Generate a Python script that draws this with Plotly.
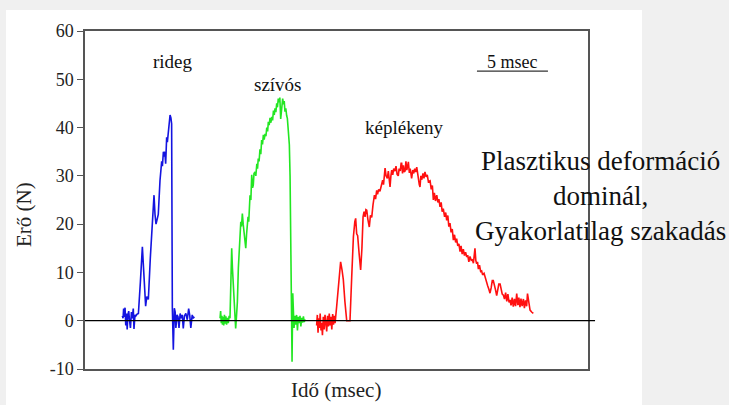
import plotly.graph_objects as go

# ---------------- data (time in msec, force in N) ----------------
blue_t = [2.63, 2.68, 2.72, 2.77, 2.82, 2.87, 2.92, 2.97, 3.02, 3.08,
          3.13, 3.20, 3.27, 3.33, 3.40, 3.45, 3.52, 3.58, 3.65, 3.76,
          3.90, 4.04, 4.12, 4.27, 4.35, 4.46, 4.60, 4.74, 4.86, 4.93,
          5.00, 5.08, 5.16, 5.28, 5.40, 5.45, 5.52, 5.58, 5.62, 5.68,
          5.75, 5.80, 5.87, 5.93, 5.99, 6.05, 6.10, 6.15, 6.22, 6.29,
          6.35, 6.40, 6.48, 6.55, 6.62, 6.70, 6.78, 6.85, 6.92, 7.00,
          7.10, 7.20, 7.30, 7.38, 7.45, 7.55, 7.62, 7.70]
blue_F = [1.0, 0.5, 2.5, 0.8, 2.7, -1.0, 1.5, -1.8, 1.2, 2.0,
          0.2, -1.5, 1.8, 0.5, 2.5, -1.7, 1.2, 1.0, 1.3, 1.5,
          8.0, 15.3, 11.0, 3.0, 5.0, 4.4, 13.0, 19.5, 26.0, 22.0,
          20.0, 21.0, 22.0, 29.0, 33.0, 32.0, 35.0, 34.0, 35.0, 32.5,
          38.0, 37.0, 39.5, 41.0, 42.6, 42.0, 40.8, 2.7, -6.0, 2.6,
          1.8, -1.5, 1.2, 0.8, -1.5, 1.5, 0.5, 1.2, -1.6, 1.0,
          1.5, 0.2, 2.5, 1.0, -1.5, 1.2, 0.5, 0.8]

green_t = [9.51, 9.55, 9.60, 9.64, 9.68, 9.72, 9.77, 9.82, 9.87, 9.92,
           9.97, 10.02, 10.09, 10.15, 10.21, 10.27, 10.33, 10.38, 10.44, 10.52,
           10.61, 10.67, 10.73, 10.80, 10.86, 10.92, 10.97, 11.02, 11.08, 11.14,
           11.22, 11.27, 11.32, 11.38, 11.43, 11.48, 11.53, 11.58, 11.62, 11.68,
           11.74, 11.80, 11.85, 11.90, 11.97, 12.03, 12.10, 12.15, 12.20, 12.26,
           12.32, 12.38, 12.44, 12.50, 12.56, 12.62, 12.68, 12.74, 12.80, 12.86,
           12.91, 12.97, 13.03, 13.09, 13.15, 13.21, 13.27, 13.33, 13.38, 13.44,
           13.50, 13.55, 13.61, 13.66, 13.72, 13.78, 13.84, 13.92, 13.98, 14.03,
           14.08, 14.14, 14.20, 14.25, 14.30, 14.35, 14.39, 14.44, 14.48, 14.53,
           14.58, 14.63, 14.67, 14.72, 14.78, 14.84, 14.90, 14.96, 15.02, 15.08,
           15.14, 15.20, 15.26, 15.32, 15.38, 15.44, 15.49]
green_F = [0.5, 2.0, -0.5, 1.0, -0.8, 0.8, -1.0, 1.2, -0.6, 0.9,
           -0.8, 0.6, -0.5, 1.0, 0.5, 9.0, 15.0, 11.0, 7.4, 2.0,
           -1.6, 1.0, 3.9, 11.0, 15.5, 17.7, 20.5, 19.5, 22.2, 20.0,
           17.7, 16.0, 15.0, 18.0, 19.8, 21.5, 20.5, 24.0, 26.0, 25.0,
           30.2, 27.5, 28.1, 30.5, 30.8, 30.0, 32.5, 31.5, 33.6, 33.0,
           35.5, 34.5, 37.4, 36.5, 38.5, 37.5, 38.7, 38.2, 40.0, 39.2,
           41.2, 40.5, 42.0, 41.0, 42.2, 41.5, 43.5, 42.6, 44.0, 43.2,
           45.0, 44.2, 46.0, 45.2, 46.2, 41.8, 44.5, 46.0, 44.8, 45.5,
           43.3, 44.0, 42.5, 41.9, 40.0, 38.0, 36.4, 30.0, 21.0, -1.0,
           -8.5, 5.7, 0.5, -1.5, 1.0, -0.8, 1.2, -2.0, 0.8, -0.5,
           1.0, -1.2, 0.6, -0.4, 0.9, -0.3, 0.3]

red_t = [16.31, 16.36, 16.41, 16.46, 16.51, 16.56, 16.62, 16.67, 16.72, 16.78,
         16.84, 16.90, 16.96, 17.02, 17.08, 17.14, 17.20, 17.26, 17.32, 17.38,
         17.44, 17.50, 17.56, 17.61, 17.72, 17.86, 18.00, 18.10, 18.19, 18.30,
         18.43, 18.55, 18.66, 18.78, 18.90, 19.00, 19.06, 19.13, 19.20, 19.30,
         19.41, 19.50, 19.58, 19.65, 19.72, 19.78, 19.84, 19.92, 20.02, 20.10,
         20.19, 20.28, 20.33, 20.38, 20.46, 20.54, 20.60, 20.68, 20.77, 20.86,
         20.96, 21.02, 21.08, 21.13, 21.20, 21.29, 21.36, 21.42, 21.48, 21.54,
         21.60, 21.67, 21.74, 21.83, 21.90, 21.98, 22.06, 22.12, 22.20, 22.26,
         22.30, 22.36, 22.42, 22.48, 22.54, 22.60, 22.66, 22.72, 22.77, 22.84,
         22.90, 22.95, 23.00, 23.08, 23.15, 23.22, 23.29, 23.36, 23.42, 23.48,
         23.54, 23.59, 23.65, 23.72, 23.80, 23.87, 23.94, 24.02, 24.10, 24.18,
         24.30, 24.38, 24.46, 24.53, 24.60, 24.68, 24.77, 24.85, 24.92, 25.00,
         25.08, 25.15, 25.23, 25.32, 25.40, 25.47, 25.55, 25.62, 25.70, 25.78,
         25.86, 25.94, 26.02, 26.10, 26.17, 26.25, 26.33, 26.41, 26.48, 26.56,
         26.64, 26.72, 26.80, 26.88, 26.95, 27.03, 27.11, 27.20, 27.28, 27.35,
         27.40, 27.46, 27.52, 27.58, 27.64, 27.70, 27.78, 27.86, 27.93, 28.00,
         28.10, 28.20, 28.29, 28.36, 28.44, 28.52, 28.60, 28.68, 28.75, 28.82,
         28.90, 28.99, 29.06, 29.14, 29.23, 29.30, 29.38, 29.46, 29.54, 29.62,
         29.70, 29.78, 29.86, 29.93, 30.00, 30.08, 30.16, 30.24, 30.32, 30.40,
         30.48, 30.55, 30.63, 30.70, 30.78, 30.87, 30.94, 31.02, 31.10, 31.16,
         31.22, 31.28, 31.34, 31.45, 31.57]
red_F = [-1.0, 1.2, -2.5, 0.5, -1.5, 1.5, -2.0, -0.5, -3.0, 0.8,
         -1.8, 1.2, -0.5, -2.2, 1.0, -1.2, 1.5, -1.0, 0.8, -1.8,
         1.4, -0.8, 1.0, -0.5, 2.9, 8.0, 12.2, 10.5, 8.5, 4.0,
         0.0, 0.0, 0.0, 9.0, 17.4, 20.5, 21.2, 18.0, 17.6, 14.0,
         10.5, 15.0, 21.5, 22.6, 21.5, 23.0, 22.9, 21.0, 19.4, 21.8,
         21.4, 24.0, 25.5, 26.0, 25.2, 27.0, 26.2, 27.2, 26.8, 28.0,
         29.1, 28.2, 30.5, 31.6, 30.0, 29.5, 31.0, 29.8, 27.7, 30.0,
         31.2, 30.2, 31.5, 31.0, 32.0, 30.3, 30.0, 31.5, 31.0, 32.6,
         32.6, 30.5, 32.2, 30.8, 31.0, 33.0, 31.2, 32.0, 32.9, 30.6,
         31.5, 30.5, 29.5, 31.2, 30.5, 31.5, 30.8, 31.8, 30.2, 29.5,
         28.2, 27.7, 30.0, 29.2, 30.5, 29.5, 30.8, 29.8, 30.2, 28.8,
         29.0, 27.2, 28.0, 25.0, 26.5, 24.8, 26.0, 24.5, 25.2, 23.6,
         24.5, 22.6, 23.2, 21.5, 22.4, 20.8, 21.8, 19.5, 20.2, 18.3,
         19.0, 16.7, 17.8, 16.2, 17.0, 15.5, 15.9, 14.3, 15.5, 13.8,
         14.8, 13.5, 14.2, 13.2, 13.6, 12.2, 13.3, 12.5, 12.6, 11.9,
         13.5, 15.0, 12.5, 11.8, 12.2, 10.7, 11.5, 10.2, 10.3, 9.5,
         9.8, 8.6, 8.1, 7.2, 6.5, 5.7, 6.8, 8.3, 8.3, 7.0,
         6.5, 5.2, 6.2, 7.6, 7.6, 6.4, 5.5, 5.3, 4.5, 5.8,
         4.0, 5.5, 3.8, 4.3, 3.2, 4.8, 2.9, 4.5, 3.0, 5.6,
         3.2, 4.8, 2.8, 4.6, 3.0, 4.5, 2.6, 4.2, 3.0, 5.6,
         4.0, 2.5, 2.2, 1.8, 1.5]

y_ticks = [-10, 0, 10, 20, 30, 40, 50, 60]
y_tick_text = ["-10", "0", "10", "20", "30", "40", "50", "60"]
curve_labels = ["rideg", "szívós", "képlékeny"]
label_t = [6.2, 13.6, 22.5]
label_F = [53.6, 49.0, 40.1]
scale_bar_t = [27.6, 32.6]     # 5 msec
scale_bar_F = 51.7
scale_label = "5 msec"
x_title = "Idő (msec)"
y_title = "Erő (N)"
note_text = "Plasztikus deformáció<br>dominál,<br>Gyakorlatilag szakadás"

SERIF = "Liberation Serif"
FRAME = "#555555"

fig = go.Figure()
fig.add_trace(go.Scatter(x=blue_t, y=blue_F, mode="lines",
                         line=dict(color="#1414e0", width=1.6), showlegend=False))
fig.add_trace(go.Scatter(x=green_t, y=green_F, mode="lines",
                         line=dict(color="#22e622", width=1.6), showlegend=False))
fig.add_trace(go.Scatter(x=red_t, y=red_F, mode="lines",
                         line=dict(color="#ff1010", width=1.6), showlegend=False))
# scale bar
fig.add_trace(go.Scatter(x=scale_bar_t, y=[scale_bar_F, scale_bar_F], mode="lines",
                         line=dict(color="#333333", width=1.2), showlegend=False))

annotations = []
for lab, tx, fy in zip(curve_labels, label_t, label_F):
    annotations.append(dict(x=tx, y=fy, xref="x", yref="y", text=lab, showarrow=False,
                            xanchor="center", yanchor="middle",
                            font=dict(family=SERIF, size=19, color="#111111")))
annotations.append(dict(x=sum(scale_bar_t) / 2, y=scale_bar_F + 1.9, xref="x", yref="y",
                        text=scale_label, showarrow=False, xanchor="center", yanchor="middle",
                        font=dict(family=SERIF, size=18, color="#111111")))
annotations.append(dict(x=0.499, y=-0.062, xref="paper", yref="paper", text=x_title,
                        showarrow=False, xanchor="center", yanchor="middle",
                        font=dict(family=SERIF, size=21, color="#222222")))
annotations.append(dict(x=-0.121, y=0.456, xref="paper", yref="paper", text=y_title,
                        textangle=-90, showarrow=False, xanchor="center", yanchor="middle",
                        font=dict(family=SERIF, size=21, color="#222222")))
annotations.append(dict(x=1.024, y=0.513, xref="paper", yref="paper", text=note_text,
                        showarrow=False, align="center", xanchor="center", yanchor="middle",
                        font=dict(family=SERIF, size=27, color="#111111")))

shapes = [
    dict(type="rect", xref="paper", yref="paper", x0=-0.157, x1=1.1074, y0=-0.12, y1=1.062,
         fillcolor="white", line=dict(width=0), layer="below"),
    dict(type="line", xref="paper", yref="y", x0=0, x1=1.014, y0=0, y1=0,
         line=dict(color="black", width=1.2)),
]

fig.update_layout(
    width=729, height=405,
    margin=dict(l=85, r=141, t=31, b=36),
    paper_bgcolor="#f0f0f0",
    plot_bgcolor="white",
    annotations=annotations,
    shapes=shapes,
    xaxis=dict(range=[0, 35.42], showgrid=False, zeroline=False, showticklabels=False,
               ticks="", showline=True, linecolor=FRAME, linewidth=1.5, mirror=True),
    yaxis=dict(range=[-10, 60], tickvals=y_ticks, ticktext=y_tick_text,
               showgrid=False, zeroline=False,
               ticks="outside", ticklen=6, tickcolor=FRAME, tickwidth=1.2,
               showline=True, linecolor=FRAME, linewidth=1.5, mirror=True,
               tickfont=dict(family=SERIF, size=18, color="#222222")),
)

fig.write_html("out.html")
